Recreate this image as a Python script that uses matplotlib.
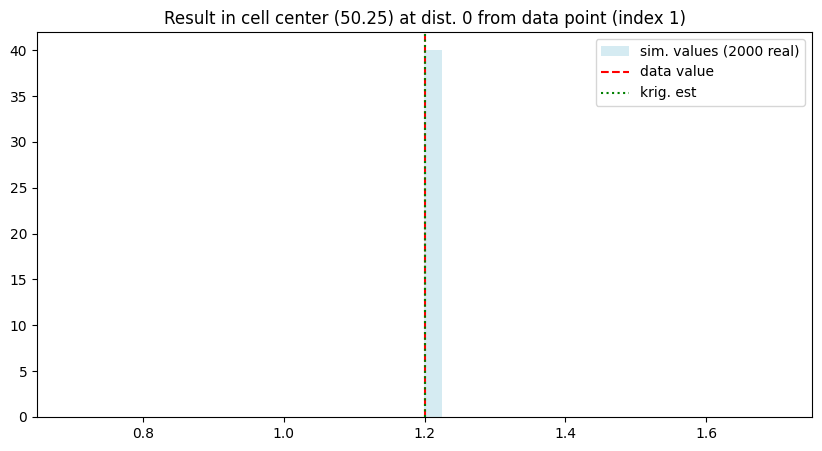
import matplotlib
matplotlib.use('Agg')
import matplotlib.pyplot as plt

# 数据：2000 次模拟结果全部相同
n_real = 2000
sim_values = [1.2] * n_real
data_value = 1.2
krig_est = 1.2
n_bins = 40

fig = plt.figure(figsize=(8.22, 4.51), dpi=100)
ax = fig.add_axes([37 / 822, 34 / 451, 775 / 822, 385 / 451])

ax.hist(sim_values, bins=n_bins, density=True, color='lightblue', alpha=0.5,
        label='sim. values ({} real)'.format(n_real))
ax.axvline(data_value, color='red', linestyle='dashed', label='data value')
ax.axvline(krig_est, color='green', linestyle='dotted', label='krig. est')

ax.set_title('Result in cell center (50.25) at dist. 0 from data point (index 1)')
ax.legend(loc='upper right')

fig.savefig('out.png', dpi=100)
